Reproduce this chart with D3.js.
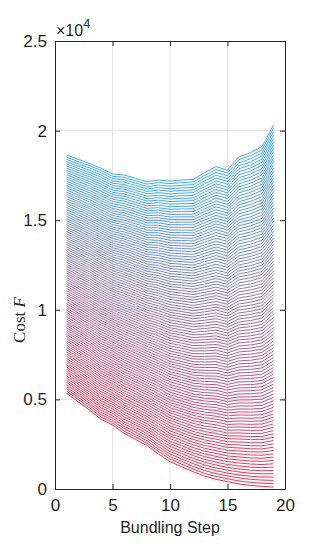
<!DOCTYPE html>
<html>
<head>
<meta charset="utf-8">
<script src="https://cdn.jsdelivr.net/npm/d3@7"></script>
<style>
  body { margin: 0; background: #fff; }
  text { font-family: "Liberation Sans", Arial, sans-serif; fill: #1f1f1f; }
</style>
</head>
<body>
<div id="chart"></div>
<script>
// bundling steps on the x axis
const steps = [1, 2, 3, 4, 5, 6, 7, 8, 9, 10, 11, 12, 13, 14, 15, 16, 17, 18, 19];
// lowest (red) curve of the family
const lowCost = [5340, 4870, 4410, 3890, 3570, 3110, 2770, 2420, 1950, 1520,
                 1250, 970, 720, 540, 410, 280, 200, 150, 110];
// highest (blue) curve of the family
const highCost = [18640, 18400, 18170, 17900, 17580, 17520, 17340, 17150, 17240, 17190,
                  17240, 17280, 17650, 17990, 17800, 18540, 18770, 19100, 20310];
// number of curves, spread evenly between the two at each step
const lineCount = 110;

const xTicks = [0, 5, 10, 15, 20];
const yTicks = [0, 5000, 10000, 15000, 20000, 25000];

const width = 315, height = 550;
const margin = {top: 41, right: 30, bottom: 61, left: 55};

const svg = d3.select("#chart").append("svg")
    .attr("width", width)
    .attr("height", height);

const x = d3.scaleLinear().domain([0, 20]).range([margin.left, width - margin.right]);
const y = d3.scaleLinear().domain([0, 25000]).range([height - margin.bottom, margin.top]);

// grid
svg.append("g").selectAll("line")
    .data(xTicks.slice(1, -1))
    .join("line")
    .attr("x1", d => x(d)).attr("x2", d => x(d))
    .attr("y1", y(0)).attr("y2", y(25000))
    .attr("stroke", "#e3e3e3").attr("stroke-width", 1);
svg.append("g").selectAll("line")
    .data(yTicks.slice(1, -1))
    .join("line")
    .attr("x1", x(0)).attr("x2", x(20))
    .attr("y1", d => y(d)).attr("y2", d => y(d))
    .attr("stroke", "#e3e3e3").attr("stroke-width", 1);

// curves
const color = d3.interpolateRgb("#ee1b3d", "#26a4f8");
const curves = d3.range(lineCount).map(k => {
    const t = k / (lineCount - 1);
    return {t, values: steps.map((s, i) => ({s, v: lowCost[i] + t * (highCost[i] - lowCost[i])}))};
});

const line = d3.line().x(d => x(d.s)).y(d => y(d.v));

svg.append("g").selectAll("path")
    .data(curves)
    .join("path")
    .attr("d", d => line(d.values))
    .attr("fill", "none")
    .attr("stroke", d => color(d.t))
    .attr("stroke-width", 0.9);

// axes, inside ticks on all four sides
const tickLen = 5;
const fmt = d => d3.format("~g")(d / 10000);

svg.append("g")
    .attr("transform", `translate(0,${y(0)})`)
    .call(d3.axisBottom(x).tickValues(xTicks).tickSizeInner(-tickLen).tickSizeOuter(0).tickPadding(10))
    .call(g => g.selectAll("text").attr("font-size", 17));
svg.append("g")
    .attr("transform", `translate(0,${y(25000)})`)
    .call(d3.axisTop(x).tickValues(xTicks).tickSizeInner(-tickLen).tickSizeOuter(0).tickFormat(""));
svg.append("g")
    .attr("transform", `translate(${x(0)},0)`)
    .call(d3.axisLeft(y).tickValues(yTicks).tickSizeInner(-tickLen).tickSizeOuter(0).tickPadding(8).tickFormat(fmt))
    .call(g => g.selectAll("text").attr("font-size", 17));
svg.append("g")
    .attr("transform", `translate(${x(20)},0)`)
    .call(d3.axisRight(y).tickValues(yTicks).tickSizeInner(-tickLen).tickSizeOuter(0).tickFormat(""));

svg.selectAll(".domain").attr("stroke", "#262626");
svg.selectAll(".tick line").attr("stroke", "#262626");

// exponent
const expo = svg.append("text")
    .attr("x", x(0) + 1)
    .attr("y", margin.top - 5)
    .attr("font-size", 16);
expo.append("tspan").text("\u00d710");
expo.append("tspan").attr("dy", -8).attr("font-size", 13).text("4");

// axis titles
svg.append("text")
    .attr("x", (x(0) + x(20)) / 2)
    .attr("y", 533)
    .attr("text-anchor", "middle")
    .attr("font-size", 16)
    .text("Bundling Step");

const yt = svg.append("text")
    .attr("transform", `translate(25,320) rotate(-90)`)
    .attr("text-anchor", "middle")
    .attr("font-size", 17)
    .style("font-family", "'Liberation Serif', 'Times New Roman', serif");
yt.append("tspan").text("Cost ");
yt.append("tspan").attr("font-style", "italic").text("F");
</script>
</body>
</html>
